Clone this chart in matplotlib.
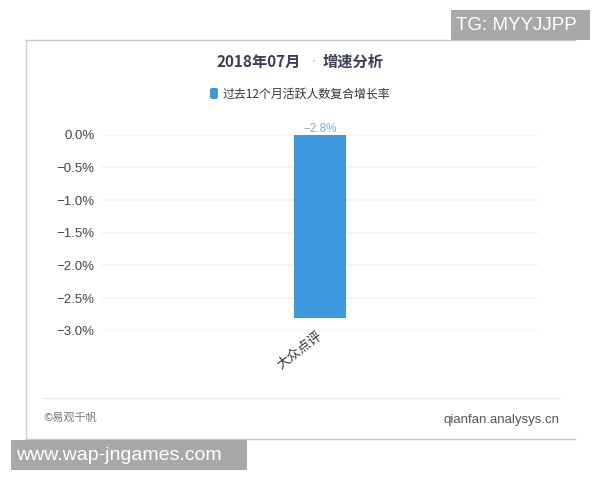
import matplotlib.pyplot as plt
from matplotlib.lines import Line2D
from matplotlib.patches import FancyBboxPatch, Rectangle

plt.rcParams['font.family'] = ['Noto Sans CJK SC', 'DejaVu Sans']

W, H = 600, 480

categories = ['大众点评']
growth = [-2.8]
y_ticks = [0.0, -0.5, -1.0, -1.5, -2.0, -2.5, -3.0]
y_labels = ['0.0%', '−0.5%', '−1.0%', '−1.5%', '−2.0%', '−2.5%', '−3.0%']
bar_labels = ['−2.8%']

BLUE = '#3d97dc'


def fx(px):
    return px / W


def fy(py):
    return 1 - py / H


fig = plt.figure(figsize=(6, 4.8), dpi=100)
fig.patch.set_facecolor('white')

ax = fig.add_axes([fx(102), fy(330.7), fx(538 - 102), (330.7 - 134.7) / H])
ax.bar(categories, growth, width=0.119, color=BLUE, zorder=3)
ax.set_xlim(-0.5, 0.5)
ax.set_ylim(-3.0, 0.0)
ax.set_yticks(y_ticks)
ax.set_yticklabels(y_labels, fontsize=9.5, color='#444444',
                   family=['Liberation Sans', 'DejaVu Sans'])
ax.grid(axis='y', color='#f3f3f3', lw=1.2)
ax.set_axisbelow(True)
ax.tick_params(axis='both', length=0)
ax.tick_params(axis='y', pad=5.5)
ax.set_xticks([])
for s in ax.spines.values():
    s.set_visible(False)

ax.text(0, 0.0, bar_labels[0], ha='center', va='bottom', fontsize=8.5,
        color='#7fa9cf', clip_on=False, family=['Liberation Sans', 'DejaVu Sans'])
fig.text(fx(300), fy(350), categories[0], ha='center', va='center', rotation=37,
         fontsize=9.5, color='#333333')


# card border and footer divider
def hline(x0, x1, y, **kw):
    fig.add_artist(Line2D([fx(x0), fx(x1)], [fy(y), fy(y)], **kw))


hline(26, 575, 40, color='#c8c8c8', lw=1)
hline(26, 575, 439, color='#c8c8c8', lw=1)
fig.add_artist(Line2D([fx(26), fx(26)], [fy(40), fy(439)], color='#d0d0d0', lw=1))
hline(43, 560, 398, color='#d8d8d8', lw=1, ls=(0, (1, 1)))

fig.text(fx(259), fy(62), '2018年07月', ha='center', va='center',
         fontsize=11, color='#3a3f55', fontweight='bold')
fig.text(fx(313), fy(62), '•', ha='center', va='center', fontsize=7, color='#cccccc')
fig.text(fx(353), fy(62), '增速分析', ha='center', va='center',
         fontsize=11, color='#3a3f55', fontweight='bold')

# legend
fig.add_artist(FancyBboxPatch((fx(210), fy(99)), fx(8), 11 / H, transform=fig.transFigure,
                              boxstyle='round,pad=0,rounding_size=0.004', fc=BLUE, ec='none'))
fig.text(fx(223), fy(94), '过去12个月活跃人数复合增长率', ha='left', va='center',
         fontsize=8.6, color='#333333')

# footer
fig.text(fx(43), fy(418), '©易观千帆', ha='left', va='center', fontsize=8, color='#777777')
fig.text(fx(560), fy(420), 'qianfan.analysys.cn', ha='right', va='center',
         fontsize=9.5, color='#555555', family=['Liberation Sans', 'DejaVu Sans'])

# watermarks
fig.add_artist(Rectangle((fx(451), fy(40)), fx(139), 30 / H, transform=fig.transFigure,
                         fc='#a8a8a8', ec='none', zorder=5))
fig.text(fx(456), fy(26), 'TG: MYYJJPP', ha='left', va='center', fontsize=13.5,
         color='white', zorder=6, family=['Liberation Sans', 'DejaVu Sans'])
fig.add_artist(Rectangle((fx(11), fy(470)), fx(236), 30 / H, transform=fig.transFigure,
                         fc='#a8a8a8', ec='none', zorder=5))
fig.text(fx(16), fy(455), 'www.wap-jngames.com', ha='left', va='center', fontsize=14,
         color='white', zorder=6, family=['Liberation Sans', 'DejaVu Sans'])

fig.savefig('out.png', dpi=100)
